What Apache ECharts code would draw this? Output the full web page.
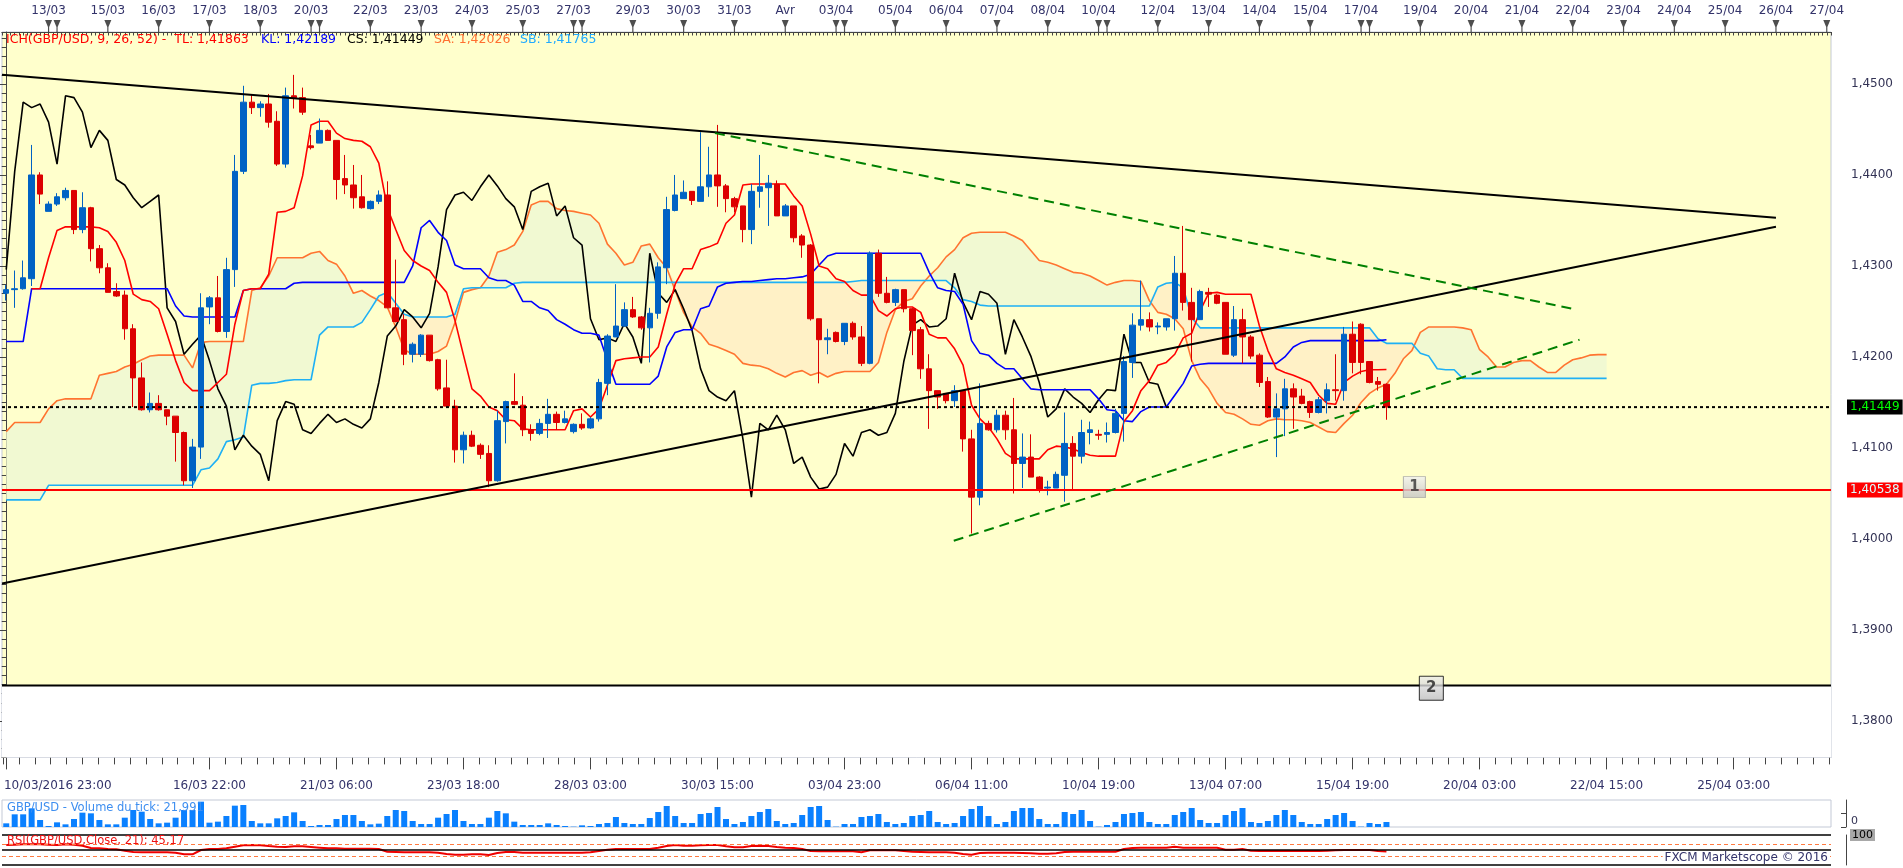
<!DOCTYPE html>
<html lang="fr">
<head>
<meta charset="utf-8">
<title>GBP/USD Ichimoku</title>
<script src="https://cdn.jsdelivr.net/npm/echarts@6.0.0/dist/echarts.min.js"></script>
<style>
html,body{margin:0;padding:0;background:#fff;overflow:hidden;}
#chart{width:1903px;height:868px;}
</style>
</head>
<body>
<div id="chart"></div>
<script>
// ================= DATA =================
const openP = [
1.4270,1.4274,1.4275,1.4286,1.4400,1.4360,1.4368,1.4375,1.4383,1.4340,
1.4364,1.4319,1.4298,1.4272,1.4268,1.4231,1.4177,1.4142,1.4149,1.4142,
1.4135,1.4117,1.4064,1.4101,1.4255,1.4265,1.4228,1.4296,1.4404,1.4480,
1.4474,1.4478,1.4459,1.4412,1.4487,1.4485,1.4432,1.4435,1.4449,1.4438,
1.4396,1.4389,1.4376,1.4363,1.4371,1.4378,1.4254,1.4241,1.4203,1.4203,
1.4224,1.4197,1.4166,1.4146,1.4098,1.4114,1.4103,1.4094,1.4064,1.4129,
1.4151,1.4147,1.4120,1.4116,1.4127,1.4137,1.4128,1.4118,1.4126,1.4122,
1.4132,1.4171,1.4222,1.4234,1.4252,1.4244,1.4232,1.4248,1.4298,1.4361,
1.4374,1.4382,1.4371,1.4387,1.4400,1.4388,1.4374,1.4366,1.4340,1.4382,
1.4386,1.4390,1.4355,1.4366,1.4333,1.4323,1.4242,1.4219,1.4227,1.4217,
1.4237,1.4222,1.4193,1.4314,1.4270,1.4260,1.4274,1.4253,1.4230,1.4187,
1.4163,1.4160,1.4152,1.4163,1.4110,1.4046,1.4127,1.4120,1.4136,1.4120,
1.4083,1.4090,1.4068,1.4056,1.4056,1.4070,1.4105,1.4091,1.4117,1.4115,
1.4115,1.4117,1.4138,1.4194,1.4235,1.4241,1.4233,1.4233,1.4242,1.4292,
1.4260,1.4241,1.4271,1.4268,1.4260,1.4202,1.4241,1.4222,1.4202,1.4173,
1.4134,1.4143,1.4165,1.4157,1.4151,1.4139,1.4152,1.4164,1.4163,1.4225,
1.4236,1.4195,1.4173,1.4170];
const highP = [
1.4279,1.4295,1.4306,1.4433,1.4403,1.4371,1.4380,1.4386,1.4383,1.4381,
1.4365,1.4323,1.4303,1.4281,1.4273,1.4236,1.4194,1.4161,1.4158,1.4142,
1.4135,1.4118,1.4110,1.4270,1.4267,1.4289,1.4309,1.4422,1.4498,1.4488,
1.4481,1.4489,1.4470,1.4496,1.4510,1.4496,1.4444,1.4462,1.4450,1.4438,
1.4422,1.4411,1.4400,1.4372,1.4383,1.4393,1.4307,1.4247,1.4216,1.4225,
1.4224,1.4198,1.4197,1.4153,1.4118,1.4119,1.4105,1.4103,1.4141,1.4152,
1.4182,1.4157,1.4126,1.4132,1.4154,1.4140,1.4141,1.4127,1.4138,1.4134,
1.4176,1.4225,1.4280,1.4260,1.4266,1.4245,1.4254,1.4304,1.4376,1.4400,
1.4394,1.4382,1.4447,1.4431,1.4455,1.4390,1.4376,1.4366,1.4390,1.4422,
1.4400,1.4394,1.4368,1.4366,1.4335,1.4324,1.4242,1.4231,1.4228,1.4237,
1.4239,1.4234,1.4316,1.4318,1.4288,1.4275,1.4274,1.4254,1.4233,1.4203,
1.4163,1.4160,1.4169,1.4163,1.4120,1.4171,1.4130,1.4142,1.4141,1.4155,
1.4116,1.4115,1.4069,1.4064,1.4074,1.4139,1.4113,1.4131,1.4129,1.4120,
1.4128,1.4143,1.4201,1.4248,1.4284,1.4249,1.4238,1.4242,1.4311,1.4344,
1.4276,1.4274,1.4276,1.4269,1.4260,1.4256,1.4253,1.4224,1.4204,1.4178,
1.4160,1.4176,1.4171,1.4165,1.4152,1.4156,1.4171,1.4203,1.4233,1.4239,
1.4237,1.4195,1.4178,1.4171];
const lowP = [
1.4262,1.4254,1.4274,1.4278,1.4368,1.4360,1.4366,1.4372,1.4335,1.4336,
1.4305,1.4292,1.4271,1.4266,1.4219,1.4145,1.4141,1.4139,1.4141,1.4125,
1.4085,1.4059,1.4056,1.4088,1.4236,1.4227,1.4221,1.4277,1.4401,1.4467,
1.4464,1.4452,1.4410,1.4408,1.4473,1.4466,1.4428,1.4435,1.4438,1.4373,
1.4379,1.4363,1.4363,1.4362,1.4368,1.4254,1.4238,1.4191,1.4194,1.4200,
1.4195,1.4163,1.4145,1.4084,1.4083,1.4101,1.4088,1.4057,1.4063,1.4105,
1.4147,1.4113,1.4108,1.4114,1.4111,1.4120,1.4127,1.4116,1.4120,1.4121,
1.4129,1.4158,1.4222,1.4233,1.4243,1.4230,1.4194,1.4242,1.4280,1.4360,
1.4374,1.4367,1.4371,1.4376,1.4365,1.4359,1.4359,1.4326,1.4324,1.4364,
1.4344,1.4355,1.4355,1.4326,1.4309,1.4240,1.4171,1.4203,1.4216,1.4213,
1.4219,1.4190,1.4192,1.4266,1.4259,1.4256,1.4249,1.4202,1.4176,1.4121,
1.4143,1.4149,1.4145,1.4096,1.4006,1.4037,1.4119,1.4117,1.4109,1.4050,
1.4056,1.4068,1.4051,1.4048,1.4056,1.4041,1.4053,1.4083,1.4104,1.4109,
1.4106,1.4116,1.4107,1.4177,1.4229,1.4228,1.4225,1.4229,1.4229,1.4251,
1.4195,1.4241,1.4255,1.4258,1.4203,1.4200,1.4193,1.4198,1.4167,1.4133,
1.4090,1.4113,1.4121,1.4148,1.4133,1.4138,1.4138,1.4152,1.4152,1.4182,
1.4181,1.4171,1.4163,1.4131];
const closeP = [
1.4274,1.4275,1.4287,1.4400,1.4379,1.4368,1.4376,1.4383,1.4340,1.4364,
1.4319,1.4298,1.4271,1.4267,1.4231,1.4177,1.4142,1.4149,1.4142,1.4135,
1.4117,1.4064,1.4101,1.4254,1.4265,1.4228,1.4296,1.4404,1.4480,1.4474,
1.4478,1.4458,1.4412,1.4487,1.4485,1.4469,1.4430,1.4449,1.4438,1.4395,
1.4389,1.4375,1.4364,1.4371,1.4378,1.4254,1.4239,1.4203,1.4214,1.4224,
1.4196,1.4165,1.4146,1.4098,1.4114,1.4102,1.4093,1.4064,1.4130,1.4151,
1.4148,1.4120,1.4116,1.4127,1.4137,1.4128,1.4132,1.4126,1.4122,1.4132,
1.4172,1.4223,1.4234,1.4252,1.4244,1.4232,1.4248,1.4299,1.4362,1.4378,
1.4381,1.4372,1.4387,1.4400,1.4388,1.4374,1.4365,1.4340,1.4382,1.4387,
1.4391,1.4355,1.4366,1.4331,1.4323,1.4242,1.4219,1.4221,1.4217,1.4237,
1.4222,1.4193,1.4314,1.4270,1.4260,1.4274,1.4253,1.4229,1.4187,1.4163,
1.4156,1.4152,1.4163,1.4110,1.4046,1.4127,1.4120,1.4136,1.4120,1.4083,
1.4090,1.4068,1.4055,1.4057,1.4071,1.4105,1.4091,1.4117,1.4120,1.4114,
1.4117,1.4138,1.4195,1.4235,1.4241,1.4233,1.4234,1.4242,1.4292,1.4260,
1.4241,1.4272,1.4269,1.4259,1.4203,1.4241,1.4222,1.4201,1.4172,1.4134,
1.4143,1.4165,1.4156,1.4149,1.4139,1.4153,1.4164,1.4163,1.4225,1.4194,
1.4194,1.4172,1.4170,1.41449];
// Tenkan-sen (red)
const tenkan = [
null,null,null,1.4275,1.4275,1.4309,1.4339,1.4343,1.4343,1.4343,
1.4343,1.4342,1.4338,1.4326,1.4306,1.4269,1.4263,1.4261,1.4253,1.4225,
1.4196,1.4172,1.4163,1.4163,1.4163,1.4172,1.4181,1.4236,1.4273,1.4275,
1.4275,1.4291,1.4359,1.4360,1.4364,1.4399,1.4455,1.4459,1.4459,1.4446,
1.4440,1.4438,1.4437,1.4431,1.4413,1.4364,1.4340,1.4317,1.4306,1.4300,
1.4295,1.4282,1.4271,1.4240,1.4202,1.4165,1.4157,1.4145,1.4141,1.4131,
1.4130,1.4121,1.4120,1.4120,1.4120,1.4120,1.4120,1.4141,1.4143,1.4134,
1.4143,1.4169,1.4196,1.4198,1.4199,1.4200,1.4200,1.4211,1.4247,1.4280,
1.4297,1.4297,1.4318,1.4321,1.4325,1.4347,1.4356,1.4389,1.4390,1.4390,
1.4390,1.4390,1.4390,1.4377,1.4366,1.4335,1.4300,1.4297,1.4286,1.4283,
1.4273,1.4268,1.4268,1.4251,1.4245,1.4253,1.4255,1.4255,1.4249,1.4225,
1.4221,1.4221,1.4209,1.4191,1.4147,1.4132,1.4123,1.4110,1.4094,1.4088,
1.4088,1.4088,1.4088,1.4098,1.4102,1.4101,1.4099,1.4095,1.4092,1.4091,
1.4091,1.4091,1.4129,1.4141,1.4163,1.4174,1.4191,1.4194,1.4203,1.4221,
1.4226,1.4251,1.4270,1.4271,1.4269,1.4269,1.4269,1.4269,1.4234,1.4207,
1.4187,1.4183,1.4180,1.4176,1.4172,1.4158,1.4149,1.4148,1.4172,1.4179,
1.4184,1.4186,1.4186,1.41863];
// Kijun-sen (blue)
const kijun = [
1.4217,1.4217,1.4217,1.4275,1.4275,1.4275,1.4275,1.4275,1.4275,1.4275,
1.4275,1.4275,1.4275,1.4275,1.4275,1.4275,1.4275,1.4275,1.4275,1.4275,
1.4256,1.4245,1.4244,1.4244,1.4244,1.4244,1.4244,1.4244,1.4273,1.4275,
1.4275,1.4275,1.4275,1.4275,1.4281,1.4282,1.4282,1.4282,1.4282,1.4282,
1.4282,1.4282,1.4282,1.4282,1.4282,1.4282,1.4282,1.4282,1.4300,1.4342,
1.4350,1.4337,1.4328,1.4301,1.4297,1.4297,1.4297,1.4287,1.4284,1.4284,
1.4279,1.4261,1.4261,1.4254,1.4251,1.4241,1.4236,1.4230,1.4226,1.4226,
1.4224,1.4196,1.4170,1.4170,1.4170,1.4170,1.4170,1.4179,1.4211,1.4227,
1.4230,1.4230,1.4253,1.4256,1.4277,1.4281,1.4282,1.4283,1.4283,1.4284,
1.4285,1.4286,1.4286,1.4287,1.4288,1.4291,1.4301,1.4311,1.4314,1.4314,
1.4314,1.4314,1.4314,1.4314,1.4314,1.4314,1.4314,1.4314,1.4314,1.4293,
1.4276,1.4273,1.4272,1.4258,1.4218,1.4204,1.4202,1.4193,1.4187,1.4187,
1.4176,1.4165,1.4164,1.4164,1.4164,1.4164,1.4164,1.4164,1.4164,1.4154,
1.4142,1.4141,1.4130,1.4129,1.4140,1.4145,1.4145,1.4145,1.4158,1.4171,
1.4190,1.4192,1.4193,1.4193,1.4193,1.4193,1.4193,1.4193,1.4193,1.4193,
1.4193,1.4200,1.4211,1.4216,1.4218,1.4218,1.4218,1.4218,1.4218,1.4218,
1.4218,1.4218,1.4218,1.42189];
// Senkou span A (orange), projected 26 periods ahead
const senkouA = [
1.4118,1.4128,1.4128,1.4128,1.4128,1.4143,1.4152,1.4154,1.4154,1.4154,
1.4154,1.4180,1.4182,1.4184,1.4189,1.4192,1.4197,1.4201,1.4202,1.4202,
1.4202,1.4202,1.4188,1.4216,1.4217,1.4217,1.4217,1.4217,1.4217,1.4273,
1.4276,1.4289,1.4309,1.4309,1.4309,1.4309,1.4314,1.4316,1.4306,1.4302,
1.4289,1.4270,1.4273,1.4267,1.4262,1.4255,1.4233,1.4208,1.4203,1.4203,
1.4203,1.4206,1.4212,1.4238,1.4271,1.4274,1.4276,1.4289,1.4315,1.4318,
1.4323,1.4338,1.4367,1.4371,1.4371,1.4363,1.4361,1.4360,1.4358,1.4356,
1.4347,1.4324,1.4314,1.4301,1.4304,1.4322,1.4324,1.4309,1.4298,1.4273,
1.4249,1.4233,1.4226,1.4214,1.4211,1.4207,1.4203,1.4193,1.4191,1.4190,
1.4187,1.4182,1.4178,1.4183,1.4185,1.4180,1.4183,1.4178,1.4182,1.4184,
1.4184,1.4184,1.4184,1.4194,1.4227,1.4252,1.4261,1.4264,1.4278,1.4289,
1.4298,1.4310,1.4318,1.4331,1.4336,1.4337,1.4337,1.4337,1.4337,1.4333,
1.4328,1.4317,1.4306,1.4304,1.4301,1.4297,1.4293,1.4292,1.4289,1.4284,
1.4279,1.4282,1.4284,1.4284,1.4283,1.4262,1.4249,1.4247,1.4242,1.4231,
1.4196,1.4176,1.4165,1.4149,1.4139,1.4137,1.4132,1.4126,1.4125,1.4130,
1.4132,1.4131,1.4131,1.4130,1.4128,1.4123,1.4118,1.4117,1.4127,1.4136,
1.4150,1.4160,1.4166,1.4170,1.4182,1.4198,1.4207,1.4227,1.4233,1.4233,
1.4233,1.4233,1.4232,1.4230,1.4208,1.4200,1.4189,1.4189,1.4194,1.4196,
1.4196,1.4189,1.4183,1.4183,1.4191,1.4197,1.4199,1.4202,1.42026,1.42026];
// Senkou span B (light blue), projected 26 periods ahead
const senkouB = [
1.4043,1.4043,1.4043,1.4043,1.4043,1.4059,1.4059,1.4059,1.4059,1.4059,
1.4059,1.4059,1.4059,1.4059,1.4059,1.4059,1.4059,1.4059,1.4059,1.4059,
1.4059,1.4059,1.4059,1.4076,1.4078,1.4088,1.4107,1.4109,1.4112,1.4169,
1.4171,1.4171,1.4172,1.4174,1.4175,1.4175,1.4175,1.4224,1.4233,1.4233,
1.4233,1.4233,1.4238,1.4252,1.4267,1.4271,1.4259,1.4247,1.4244,1.4244,
1.4244,1.4244,1.4244,1.4247,1.4275,1.4276,1.4276,1.4276,1.4276,1.4276,
1.4281,1.4282,1.4282,1.4282,1.4282,1.4282,1.4282,1.4282,1.4282,1.4282,
1.4282,1.4282,1.4282,1.4282,1.4282,1.4282,1.4282,1.4282,1.4282,1.4282,
1.4282,1.4282,1.4282,1.4282,1.4282,1.4282,1.4282,1.4282,1.4282,1.4282,
1.4282,1.4282,1.4282,1.4282,1.4282,1.4282,1.4282,1.4282,1.4282,1.4282,
1.4283,1.4284,1.4284,1.4284,1.4284,1.4284,1.4284,1.4284,1.4284,1.4284,
1.4284,1.4284,1.4276,1.4263,1.4261,1.4257,1.4256,1.4256,1.4256,1.4256,
1.4256,1.4256,1.4256,1.4256,1.4256,1.4256,1.4256,1.4256,1.4256,1.4256,
1.4256,1.4256,1.4256,1.4256,1.4256,1.4256,1.4277,1.4281,1.4282,1.4276,
1.4243,1.4232,1.4232,1.4232,1.4232,1.4232,1.4232,1.4232,1.4232,1.4232,
1.4232,1.4232,1.4232,1.4232,1.4232,1.4232,1.4232,1.4232,1.4232,1.4232,
1.4232,1.4232,1.4220,1.4215,1.4215,1.4215,1.4215,1.4204,1.4201,1.4187,
1.4186,1.4186,1.41765,1.41765,1.41765,1.41765,1.41765,1.41765,1.41765,1.41765,
1.41765,1.41765,1.41765,1.41765,1.41765,1.41765,1.41765,1.41765,1.41765,1.41765];
// Tick volume, thousands of ticks
const volumeK = [
16.1,55.7,55.7,82.1,30.8,4.4,20.5,11.7,35.2,63.0,
60.1,30.8,11.7,11.7,41.0,74.8,67.4,35.2,16.1,19.1,
41.0,74.8,74.8,111.4,19.1,23.5,48.4,93.8,96.8,26.4,
16.1,16.1,38.1,48.4,64.5,26.4,4.4,8.8,8.8,35.2,
52.8,52.8,26.4,11.7,14.7,48.4,74.8,70.4,26.4,13.2,
13.2,41.0,57.2,74.8,26.4,13.2,13.2,41.0,70.4,60.1,
23.5,8.8,8.8,8.8,16.1,8.8,4.4,1.5,7.3,4.4,
13.2,17.6,44.0,17.6,13.2,13.2,39.6,66.0,92.4,48.4,
17.6,17.6,57.2,61.6,88.0,35.2,13.2,22.0,48.4,66.0,
79.2,26.4,13.2,17.6,52.8,88.0,92.4,30.8,1.5,13.2,
13.2,44.0,48.4,57.2,22.0,13.2,17.6,48.4,52.8,70.4,
22.0,13.2,17.6,48.4,79.2,92.4,48.4,13.2,22.0,70.4,
83.6,83.6,35.2,13.2,13.2,66.0,57.2,74.8,26.4,1.5,
8.8,22.0,57.2,61.6,66.0,22.0,13.2,13.2,52.8,66.0,
83.6,30.8,17.6,17.6,52.8,70.4,83.6,22.0,17.6,26.4,
52.8,74.8,52.8,22.0,13.2,13.2,35.2,52.8,61.6,26.4,
1.5,17.6,13.2,21.991];
// RSI(21)
const rsi = [
66.7,67.8,68.9,68.9,68.9,67.8,66.7,68.9,67.8,64.4,
56.7,55.6,53.3,52.2,47.8,43.3,42.2,42.2,42.2,42.2,
41.1,35.6,35.6,50.0,53.3,53.3,55.6,61.1,65.6,66.7,
65.6,63.3,61.1,60.0,62.2,62.2,60.0,57.8,55.6,55.6,
54.4,54.4,54.4,54.4,53.3,44.4,43.3,42.2,42.2,42.2,
42.2,41.1,36.7,34.4,34.4,35.6,35.6,33.3,40.0,43.3,
43.3,41.1,41.1,41.1,41.1,41.1,41.1,41.1,41.1,42.2,
46.7,51.1,53.3,53.3,53.3,53.3,53.3,57.8,63.3,66.7,
64.4,64.4,65.6,66.7,66.7,62.2,58.9,58.9,63.3,64.4,
63.3,60.0,57.8,56.7,53.3,46.7,45.6,45.6,45.6,45.6,
45.6,42.2,48.9,48.9,48.9,48.9,46.7,44.4,43.3,42.2,
42.2,42.2,41.1,36.7,34.4,40.0,41.1,41.1,41.1,41.1,
40.0,38.9,37.8,37.8,38.9,43.3,44.4,44.4,44.4,44.4,
44.4,44.4,53.3,56.7,57.8,57.8,57.8,57.8,61.1,57.8,
57.8,57.8,57.8,57.8,51.1,51.1,53.3,47.8,46.7,46.7,
46.7,46.7,46.7,46.7,46.7,46.7,47.8,48.9,50.0,50.0,
50.0,50.0,46.7,45.17];
// time axis (candle slot index of each label)
const topDayIdx = [5,12,18,24,30,36,43,49,55,61,67,74,80,86,92,98,105,111,117,123,129,136,142,148,154,160,167,173,179,185,191,197,203,209,215];
const topDayLbl = ['13/03','15/03','16/03','17/03','18/03','20/03','22/03','23/03','24/03','25/03','27/03','29/03','30/03','31/03','Avr','03/04','05/04','06/04','07/04','08/04','10/04','12/04','13/04','14/04','15/04','17/04','19/04','20/04','21/04','22/04','23/04','24/04','25/04','26/04','27/04'];
const dayStartIdx = [5,6,12,18,24,30,36,37,43,49,55,61,67,68,74,80,86,92,98,99,105,111,117,123,129,130,136,142,148,154,160,161,167,173,179,185,191,197,203,209,215];
const botIdx = [0,24,39,54,69,84,99,114,129,144,159,174,189,204];
const botLbl = ['10/03/2016 23:00','16/03 22:00','21/03 06:00','23/03 18:00','28/03 03:00','30/03 15:00','03/04 23:00','06/04 11:00','10/04 19:00','13/04 07:00','15/04 19:00','20/04 03:00','22/04 15:00','25/04 03:00'];
const priceTicks = [1.38,1.39,1.40,1.41,1.42,1.43,1.44,1.45];
// levels and drawn lines (slot index, price)
const level1 = 1.40538;
const level2 = 1.3839;
const lastClose = 1.41449;
const trendUpper = [[-0.5,1.4510],[209,1.4353]];
const trendLower = [[-0.5,1.3951],[209,1.4343]];
const greenUpper = [[83.7,1.4446],[185.0,1.4253]];
const greenLower = [[111.9,1.3998],[185.8,1.4219]];
const CHIKOU_SHIFT = 26;

// ================= BUILD =================
const FONT = 'DejaVu Sans, Verdana, sans-serif';
const NSLOT = 216;
const XMIN = -0.5, XMAX = NSLOT - 0.5;
const YMIN = 1.376, YMAX = 1.45571;
const slots = Array.from({length: NSLOT}, (_, i) => i);
const candles = openP.map((o, i) => [o, closeP[i], lowP[i], highP[i]]);
const chikou = closeP.slice(CHIKOU_SHIFT);
const cloudBase = senkouA.map((a, i) => Math.min(a, senkouB[i]));
const cloudUp = senkouA.map((a, i) => a > senkouB[i] ? +(a - senkouB[i]).toFixed(6) : 0);
const cloudDn = senkouA.map((a, i) => senkouB[i] > a ? +(senkouB[i] - a).toFixed(6) : 0);
const halfTicks = []; for (let v = XMIN; v <= XMAX + 1e-9; v += 0.5) halfTicks.push(v);
const botTicks = []; for (let k = -13; k <= 102; k++) botTicks.push(24 + k * 1.875);
const fmtPrice = v => v.toFixed(4).replace('.', ',');
const fmt5 = v => v.toFixed(5).replace('.', ',');
const AXC = '#33336a';

const hLine = (val, color, width, type, z) => ({
  type: 'line', xAxisIndex: 1, yAxisIndex: 0, data: [[XMIN, val], [XMAX, val]],
  symbol: 'none', silent: true, z: z, lineStyle: {color, width, type}
});
const tLine = (pts, color, width, type) => ({
  type: 'line', xAxisIndex: 1, yAxisIndex: 0, data: pts, symbol: 'none', silent: true, z: 6,
  lineStyle: {color, width, type}
});
const ind = (data, color, z) => ({
  type: 'line', xAxisIndex: 0, yAxisIndex: 0, data, symbol: 'none', silent: true, z: z || 3,
  lineStyle: {color, width: 1.6}, connectNulls: false
});

const redLine = hLine(level1, '#ff0000', 2, 'solid', 5);
redLine.endLabel = {show: true, formatter: () => fmt5(level1), distance: 16,
  color: '#d8ffff', backgroundColor: '#ff0000', padding: [2, 3, 1, 3], fontSize: 12, fontFamily: FONT};
const dotLine = hLine(lastClose, '#000000', 2, [3, 3], 5);
dotLine.endLabel = {show: true, formatter: () => fmt5(lastClose), distance: 16,
  color: '#00ff00', backgroundColor: '#000000', padding: [2, 3, 1, 3], fontSize: 12, fontFamily: FONT};
const line2 = hLine(level2, '#000000', 2, 'solid', 5);
const whiteBelow = {type: 'line', xAxisIndex: 1, yAxisIndex: 0, data: [], z: 0, silent: true,
  markArea: {silent: true, itemStyle: {color: '#ffffff'}, data: [[{yAxis: YMIN}, {yAxis: level2}]]}};

const option = {
  animation: false,
  backgroundColor: '#ffffff',
  textStyle: {fontFamily: FONT},
  title: [
    {left: 6, top: 33, padding: 0,
     text: '{r|ICH(GBP/USD, 9, 26, 52) -  TL: 1,41863}{b|KL: 1,42189}{k|CS: 1,41449}{o|SA: 1,42026}{c|SB: 1,41765}',
     textStyle: {fontSize: 12.5, fontWeight: 'normal', fontFamily: FONT, rich: {
       r: {color: '#ff0000', width: 255, fontSize: 12.5, fontFamily: FONT},
       b: {color: '#0000ff', width: 86, fontSize: 12.5, fontFamily: FONT},
       k: {color: '#000000', width: 87, fontSize: 12.5, fontFamily: FONT},
       o: {color: '#ff7030', width: 86, fontSize: 12.5, fontFamily: FONT},
       c: {color: '#20aaff', fontSize: 12.5, fontFamily: FONT}}}},
    {left: 7, top: 802, padding: 0, text: 'GBP/USD - Volume du tick: 21,991',
     textStyle: {fontSize: 11.5, fontWeight: 'normal', color: '#3d8ef0', fontFamily: FONT}},
    {left: 7, top: 835, padding: 0, text: 'RSI(GBP/USD,Close, 21): 45,17',
     textStyle: {fontSize: 11.5, fontWeight: 'normal', color: '#ee1111', fontFamily: FONT}},
    {right: 73, top: 852, padding: [0, 2], backgroundColor: '#ffffff', text: 'FXCM Marketscope © 2016',
     textStyle: {fontSize: 12, fontWeight: 'normal', color: AXC, fontFamily: FONT}}
  ],
  grid: [
    {left: 2, width: 1829, top: 32, height: 725.4, show: true, backgroundColor: '#ffffcc', borderColor: '#c3c9d6', borderWidth: 1},
    {left: 2, width: 1829, top: 20, height: 12},
    {left: 2, width: 1829, top: 800, height: 27, show: true, backgroundColor: '#ffffff', borderColor: '#c3c9d6', borderWidth: 1},
    {left: 2, width: 1829, top: 835, height: 30}
  ],
  xAxis: [
    {type: 'category', gridIndex: 0, data: slots, show: false, boundaryGap: true},
    {type: 'value', gridIndex: 0, min: XMIN, max: XMAX, position: 'bottom',
     axisLine: {show: true, lineStyle: {color: '#b0b7c6', width: 1}},
     axisTick: {show: true, length: 7, customValues: botTicks, lineStyle: {color: '#444'}},
     axisLabel: {show: true, customValues: botIdx, margin: 22, fontSize: 12, color: AXC, fontFamily: FONT,
       formatter: v => { const t = botLbl[botIdx.indexOf(v)]; return v === 0 ? '{f|' + t + '}' : t; },
       rich: {f: {padding: [0, 0, 0, 103], fontSize: 12, color: AXC, fontFamily: FONT}}},
     splitLine: {show: false}},
    {type: 'value', gridIndex: 0, min: XMIN, max: XMAX, position: 'bottom',
     axisLine: {show: false}, axisTick: {show: true, length: 12, customValues: botIdx, lineStyle: {color: '#444'}},
     axisLabel: {show: false}, splitLine: {show: false}},
    {type: 'value', gridIndex: 1, min: XMIN, max: XMAX, position: 'top',
     axisLine: {show: true, lineStyle: {color: '#444', width: 1}},
     axisTick: {show: true, inside: true, length: 3.5, customValues: halfTicks, lineStyle: {color: '#444'}},
     axisLabel: {show: true, customValues: topDayIdx, margin: 3, fontSize: 12, color: AXC, fontFamily: FONT,
       formatter: v => topDayLbl[topDayIdx.indexOf(v)]},
     splitLine: {show: false}},
    {type: 'category', gridIndex: 2, data: slots, show: false, boundaryGap: true},
    {type: 'category', gridIndex: 3, data: slots, show: false, boundaryGap: true}
  ],
  yAxis: [
    {type: 'value', gridIndex: 0, min: YMIN, max: YMAX, interval: 0.001, position: 'right', offset: 15,
     axisLine: {show: true, lineStyle: {color: '#444'}},
     axisTick: {show: true, inside: true, length: 4.5, lineStyle: {color: '#444'}},
     axisLabel: {show: false}, splitLine: {show: false}},
    {type: 'value', gridIndex: 0, min: YMIN, max: YMAX, position: 'right', offset: 15,
     axisLine: {show: false},
     axisTick: {show: true, inside: true, length: 14, customValues: priceTicks, lineStyle: {color: '#444'}},
     axisLabel: {show: true, customValues: priceTicks, formatter: fmtPrice, margin: 5, fontSize: 12, color: '#333355', fontFamily: FONT},
     splitLine: {show: false}},
    {type: 'value', gridIndex: 1, min: 0, max: 1, show: false},
    {type: 'value', gridIndex: 2, min: 0, max: 118.7, position: 'right', offset: 15,
     axisLine: {show: true, lineStyle: {color: '#444'}},
     axisTick: {show: true, inside: true, length: 5, customValues: [0, 60], lineStyle: {color: '#444'}},
     axisLabel: {show: true, customValues: [0], formatter: () => '0', margin: 5, fontSize: 11, color: '#333355', fontFamily: FONT, verticalAlign: 'bottom'},
     splitLine: {show: false}},
    {type: 'value', gridIndex: 3, min: 0, max: 100, position: 'right', offset: 15,
     axisLine: {show: true, lineStyle: {color: '#444'}},
     axisTick: {show: false},
     axisLabel: {show: true, customValues: [100, 70], showMinLabel: true, showMaxLabel: true, margin: 4, fontSize: 11, fontFamily: FONT,
       formatter: v => v === 100 ? '{g|100}' : '{o|70}',
       rich: {g: {backgroundColor: '#a8a8a8', color: '#000', padding: [1, 2, 0, 2], fontSize: 11, fontFamily: FONT},
              o: {backgroundColor: '#ff8a4a', color: '#000', padding: [1, 2, 0, 2], fontSize: 11, fontFamily: FONT}}},
     splitLine: {show: false}}
  ],
  series: [
    whiteBelow,
    // Kumo fill
    {type: 'line', xAxisIndex: 0, yAxisIndex: 0, data: cloudBase, stack: 'kumo', symbol: 'none', silent: true, z: 1,
     lineStyle: {width: 0, opacity: 0}},
    {type: 'line', xAxisIndex: 0, yAxisIndex: 0, data: cloudUp, stack: 'kumo', symbol: 'none', silent: true, z: 1,
     lineStyle: {width: 0, opacity: 0}, areaStyle: {color: '#f1f9d2', opacity: 1}},
    {type: 'line', xAxisIndex: 0, yAxisIndex: 0, data: cloudDn, stack: 'kumo', symbol: 'none', silent: true, z: 1,
     lineStyle: {width: 0, opacity: 0}, areaStyle: {color: '#fff1c6', opacity: 1}},
    ind(senkouA, '#ff7430'),
    ind(senkouB, '#1eb0f5'),
    ind(chikou, '#000000'),
    ind(kijun, '#0000ff'),
    ind(tenkan, '#ff0000'),
    {type: 'candlestick', xAxisIndex: 0, yAxisIndex: 0, data: candles, barWidth: 6, silent: true, z: 4,
     itemStyle: {color: '#0062c4', color0: '#dc0000', borderColor: '#0062c4', borderColor0: '#dc0000', borderWidth: 1}},
    redLine, dotLine, line2,
    tLine(trendUpper, '#000000', 2, 'solid'),
    tLine(trendLower, '#000000', 2, 'solid'),
    tLine(greenUpper, '#008000', 2, [10, 6]),
    tLine(greenLower, '#008000', 2, [10, 6]),
    // level tags "1" and "2"
    {type: 'scatter', xAxisIndex: 1, yAxisIndex: 0, data: [[166.3, 1.4057]], symbol: 'rect', symbolSize: [22, 21], z: 8, silent: true,
     itemStyle: {color: new echarts.graphic.LinearGradient(0, 0, 0, 1, [{offset: 0, color: '#f2f2f2'}, {offset: 1, color: '#c2c2c2'}]), borderColor: '#a0a0a0', borderWidth: 1},
     label: {show: true, position: 'inside', formatter: '1', fontSize: 15, fontWeight: 'bold', color: '#333', fontFamily: FONT}},
    {type: 'scatter', xAxisIndex: 1, yAxisIndex: 0, data: [[168.3, 1.3836]], symbol: 'rect', symbolSize: [24, 24], z: 8, silent: true,
     itemStyle: {color: new echarts.graphic.LinearGradient(0, 0, 0, 1, [{offset: 0, color: '#eeeeee'}, {offset: 1, color: '#bcbcbc'}]), borderColor: '#000', borderWidth: 1},
     label: {show: true, position: 'inside', formatter: '2', fontSize: 15, fontWeight: 'bold', color: '#222', fontFamily: FONT}},
    // day markers on the top time axis
    {type: 'scatter', xAxisIndex: 3, yAxisIndex: 2, data: dayStartIdx.map(i => [i, 0.5]), silent: true, z: 5,
     symbol: 'path://M0,0 L12,0 L7,14 L7,24 L5,24 L5,14 Z', symbolSize: [7, 12], itemStyle: {color: '#222'}},
    // volume
    {type: 'bar', xAxisIndex: 4, yAxisIndex: 3, data: volumeK, barWidth: 6, silent: true, itemStyle: {color: '#0a80ff'}},
    // RSI
    {type: 'line', xAxisIndex: 5, yAxisIndex: 4, data: rsi, symbol: 'none', silent: true, z: 4,
     lineStyle: {color: '#ee0000', width: 2},
     markLine: {silent: true, symbol: 'none', label: {show: false}, data: [
       {yAxis: 100, lineStyle: {color: '#000', width: 1.5, type: 'solid'}},
       {yAxis: 50, lineStyle: {color: '#000', width: 1.5, type: 'solid'}},
       {yAxis: 0, lineStyle: {color: '#000', width: 1.5, type: 'solid'}},
       {yAxis: 70, lineStyle: {color: '#ff7a40', width: 1, type: [4, 3]}},
       {yAxis: 30, lineStyle: {color: '#ff7a40', width: 1, type: [4, 3]}}]}}
  ]
};

const chart = echarts.init(document.getElementById('chart'));
chart.setOption(option);
</script>
</body>
</html>
